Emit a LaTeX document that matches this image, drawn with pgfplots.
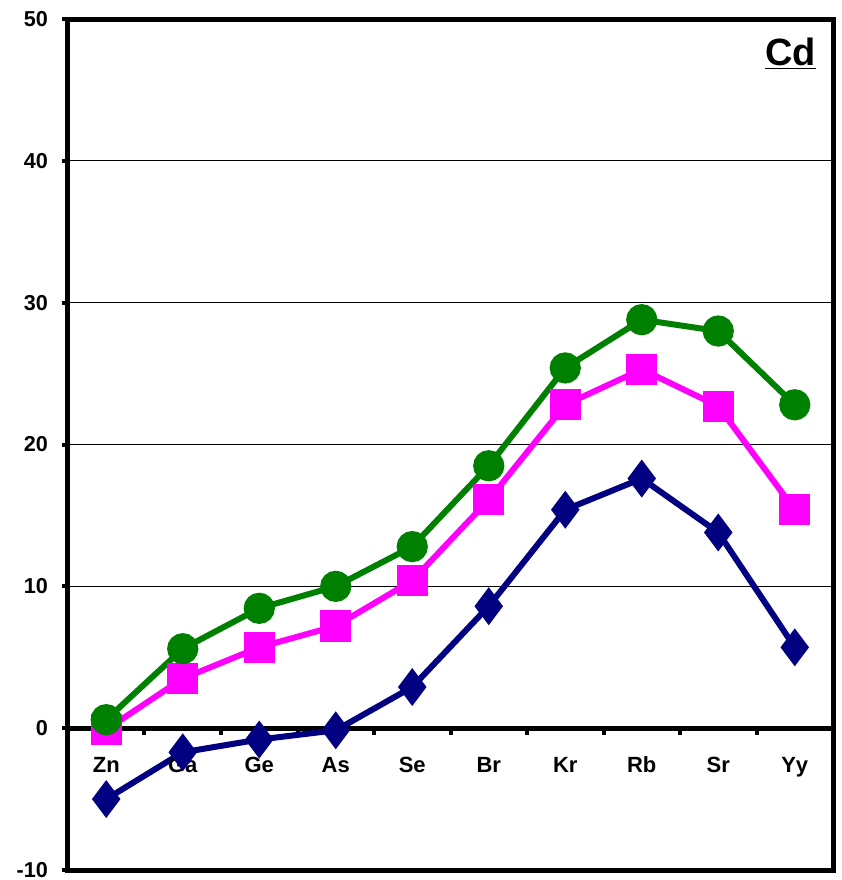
\documentclass[border=0pt]{standalone}
\usepackage{pgfplots}
\pgfplotsset{compat=1.18}
\usepackage{fontspec}
\setmainfont{Liberation Sans}
\definecolor{cgreen}{RGB}{0,128,0}
\definecolor{cmag}{RGB}{255,0,255}
\definecolor{cnavy}{RGB}{0,0,128}
\begin{document}
\begin{tikzpicture}[x=1pt,y=1pt]
\useasboundingbox (-34,-5) rectangle (387,435);
\begin{axis}[
  at={(0,0)}, anchor=south west,
  scale only axis, width=382.5pt, height=425.5pt,
  xmin=-0.5, xmax=9.5, ymin=-10, ymax=50,
  xtick=\empty,
  ytick={-10,0,10,20,30,40,50}, ytick pos=left,
  /pgf/number format/assume math mode=true,
  yticklabel style={font=\bfseries\fontsize{10.8}{12}\selectfont, xshift=-3.5pt},
  tick align=outside, major tick length=3pt,
  ymajorgrids, grid style={black, line width=0.5pt},
  axis line style={line width=2.5pt},
  tick style={line width=2pt, black},
  clip=false,
]
\draw[line width=2.5pt] (axis cs:-0.5,0) -- (axis cs:9.5,0);
\pgfplotsinvokeforeach{0.5,1.5,2.5,3.5,4.5,5.5,6.5,7.5,8.5}{\draw[line width=2pt] (axis cs:#1,0) -- ([yshift=-3.5pt]axis cs:#1,0);}
\addplot[cnavy, line width=3pt, mark=diamond*, mark size=7pt, mark options={solid, fill=cnavy}] coordinates {
(0,-5.0) (1,-1.7) (2,-0.8) (3,-0.15) (4,2.9) (5,8.6) (6,15.4) (7,17.6) (8,13.8) (9,5.7)};
\addplot[cmag, line width=3pt, mark=square*, mark size=6.3pt, mark options={solid, fill=cmag}] coordinates {
(0,-0.1) (1,3.5) (2,5.7) (3,7.2) (4,10.4) (5,16.1) (6,22.8) (7,25.3) (8,22.7) (9,15.4)};
\addplot[cgreen, line width=3pt, mark=*, mark size=6.3pt, mark options={solid, fill=cgreen}] coordinates {
(0,0.6) (1,5.6) (2,8.45) (3,10.0) (4,12.8) (5,18.5) (6,25.4) (7,28.8) (8,28.0) (9,22.8)};
\node[font=\bfseries\fontsize{11}{12}\selectfont, anchor=base] at (axis cs:0,-3.1) {Zn};
\node[font=\bfseries\fontsize{11}{12}\selectfont, anchor=base] at (axis cs:1,-3.1) {Ga};
\node[font=\bfseries\fontsize{11}{12}\selectfont, anchor=base] at (axis cs:2,-3.1) {Ge};
\node[font=\bfseries\fontsize{11}{12}\selectfont, anchor=base] at (axis cs:3,-3.1) {As};
\node[font=\bfseries\fontsize{11}{12}\selectfont, anchor=base] at (axis cs:4,-3.1) {Se};
\node[font=\bfseries\fontsize{11}{12}\selectfont, anchor=base] at (axis cs:5,-3.1) {Br};
\node[font=\bfseries\fontsize{11}{12}\selectfont, anchor=base] at (axis cs:6,-3.1) {Kr};
\node[font=\bfseries\fontsize{11}{12}\selectfont, anchor=base] at (axis cs:7,-3.1) {Rb};
\node[font=\bfseries\fontsize{11}{12}\selectfont, anchor=base] at (axis cs:8,-3.1) {Sr};
\node[font=\bfseries\fontsize{11}{12}\selectfont, anchor=base] at (axis cs:9,-3.1) {Yy};
\node[font=\bfseries\fontsize{19}{22}\selectfont, anchor=north east, inner sep=0pt] at (rel axis cs:0.978,0.978) {\underline{Cd}};
\end{axis}
\end{tikzpicture}
\end{document}
